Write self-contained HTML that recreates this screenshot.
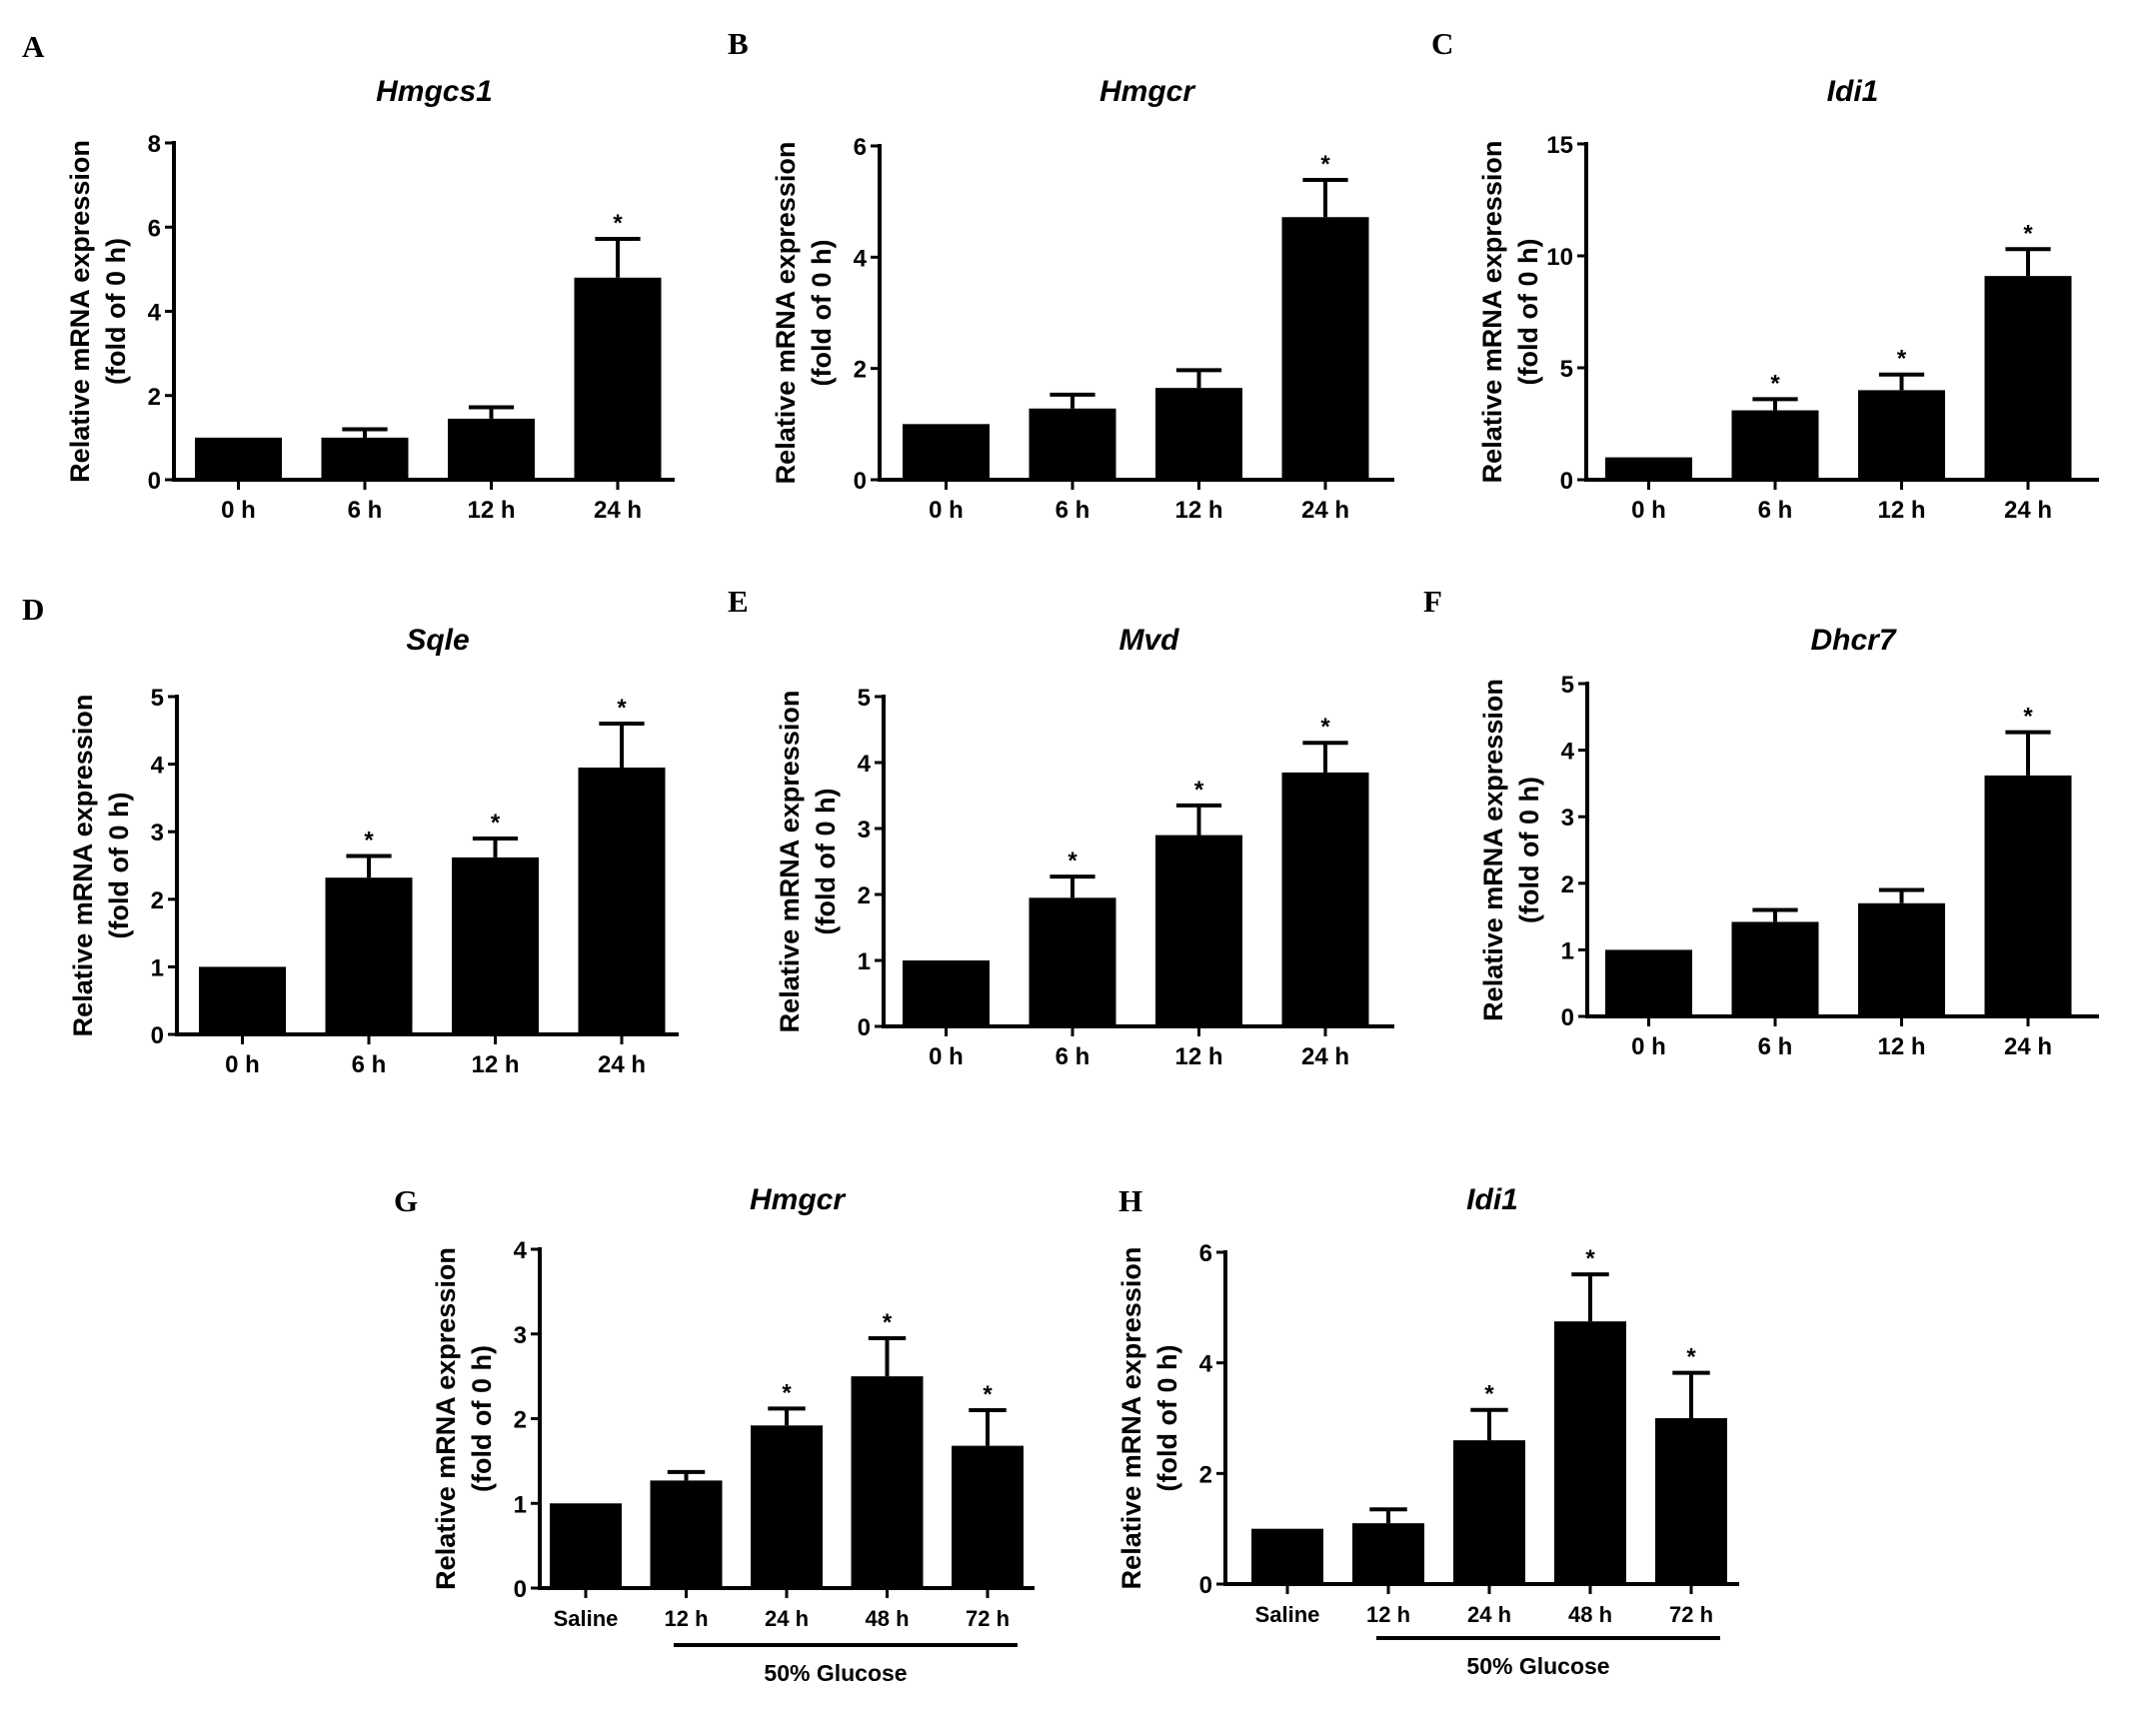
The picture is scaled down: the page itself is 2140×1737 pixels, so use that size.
<!DOCTYPE html>
<html><head><meta charset="utf-8"><style>
body{margin:0;background:#fff;}
svg{display:block;}
text{font-family:"Liberation Sans",sans-serif;font-weight:bold;fill:#000;}
.lt{font-family:"Liberation Serif",serif;font-size:31px;}
</style></head><body>
<svg id="fig" width="2140" height="1737" viewBox="0 0 2140 1737" xmlns="http://www.w3.org/2000/svg"></svg>
<script>
const catsT = ["0 h","6 h","12 h","24 h"];
const catsG = ["Saline","12 h","24 h","48 h","72 h"];
const valsA = [1,1,1.45,4.8];     const errA = [0,0.2,0.27,0.92];  const starA = [0,0,0,1];
const valsB = [1,1.28,1.65,4.72]; const errB = [0,0.25,0.32,0.67]; const starB = [0,0,0,1];
const valsC = [1,3.1,4.0,9.1];    const errC = [0,0.5,0.7,1.2];    const starC = [0,1,1,1];
const valsD = [1,2.32,2.62,3.95]; const errD = [0,0.32,0.28,0.65]; const starD = [0,1,1,1];
const valsE = [1,1.95,2.9,3.85];  const errE = [0,0.32,0.45,0.45]; const starE = [0,1,1,1];
const valsF = [1,1.42,1.7,3.62];  const errF = [0,0.18,0.2,0.65];  const starF = [0,0,0,1];
const valsG = [1,1.27,1.92,2.5,1.68]; const errG = [0,0.1,0.2,0.45,0.42]; const starG = [0,0,1,1,1];
const valsH = [1,1.1,2.6,4.75,3.0];   const errH = [0,0.25,0.55,0.85,0.82]; const starH = [0,0,1,1,1];
const ticksA = [0,2,4,6,8]; const ticksB = [0,2,4,6]; const ticksC = [0,5,10,15];
const ticks5 = [0,1,2,3,4,5]; const ticksG = [0,1,2,3,4]; const ticksH = [0,2,4,6];

const NS="http://www.w3.org/2000/svg";
const svg=document.getElementById('fig');
function mk(tag,attrs,parent){const e=document.createElementNS(NS,tag);for(const k in attrs)e.setAttribute(k,attrs[k]);(parent||svg).appendChild(e);return e;}

function panel(p){
  const g=mk('g',{});
  
  
  const max=p.ticks[p.ticks.length-1];
  const ys=v=>p.y0-(v/max)*(p.y0-p.yTop);
  const bx=i=>p.bar0+i*p.pitch;
  const L=mk('text',{x:p.lx,y:p.ly,class:'lt'},g);L.textContent=p.id;
  
  
  const T=mk('text',{x:(p.axisX+p.end)/2+10,y:p.ty,'font-size':30,'font-style':'italic','text-anchor':'middle'},g);T.textContent=p.title;
  
  
  p.vals.forEach((v,i)=>{
    const x=bx(i);
    const r=mk('rect',{x:x,y:ys(v),width:p.barW,height:p.y0-ys(v),fill:'#000'},g);
    
    
    const cx=x+p.barW/2;
    if(p.err[i]>0){
      const yt=ys(v+p.err[i]);
      const eb=mk('path',{d:`M${cx},${ys(v)}V${yt}M${cx-p.barW*0.26},${yt}H${cx+p.barW*0.26}`,stroke:'#000','stroke-width':4,fill:'none'},g);
      
      
    }
    if(p.star[i]){
      const s=mk('text',{x:cx,y:ys(v+p.err[i])-8,'font-size':24,'text-anchor':'middle'},g);s.textContent='*';
      
      
    }
    const tk=mk('line',{x1:cx,x2:cx,y1:p.y0,y2:p.y0+10,stroke:'#000','stroke-width':3},g);
    
    
    const cl=mk('text',{x:cx,y:p.y0+38,'font-size':p.cfs||24,'text-anchor':'middle'},g);cl.textContent=p.cats[i];
    
    
  });
  const ax=mk('path',{d:`M${p.axisX},${p.yTop-2}V${p.y0}H${p.end}`,stroke:'#000','stroke-width':4,fill:'none'},g);
  
  
  p.ticks.forEach(t=>{
    const y=ys(t);
    const l=mk('line',{x1:p.axisX-9,x2:p.axisX,y1:y,y2:y,stroke:'#000','stroke-width':3},g);
    
    
    const tl=mk('text',{x:p.axisX-13,y:y+9,'font-size':24,'text-anchor':'end'},g);tl.textContent=t;
    
    
  });
  const ym=(p.y0+p.yTop)/2;
  const yl=mk('text',{transform:`translate(${p.axisX-85},${ym}) rotate(-90)`,'font-size':27,'text-anchor':'middle'},g);
  
  
  const t1=mk('tspan',{x:0,y:0},yl);t1.textContent='Relative mRNA expression';
  const t2=mk('tspan',{x:0,y:36},yl);t2.textContent='(fold of 0 h)';
  if(p.gl){
    const gl=mk('line',{x1:p.gl[0],x2:p.gl[1],y1:p.gl[2],y2:p.gl[2],stroke:'#000','stroke-width':4},g);
    
    
    const gt=mk('text',{x:(p.gl[0]+p.gl[1])/2-10,y:p.gl[2]+36,'font-size':23,'text-anchor':'middle'},g);gt.textContent='50% Glucose';
    
    
  }
}
const topCfg={pitch:126.5,barW:87};
panel({id:'A',title:'Hmgcs1',cats:catsT,vals:valsA,err:errA,star:starA,ticks:ticksA,axisX:174,y0:480,yTop:143,bar0:195,end:675,lx:22,ly:57,ty:101,...topCfg});
panel({id:'B',title:'Hmgcr',cats:catsT,vals:valsB,err:errB,star:starB,ticks:ticksB,axisX:880,y0:480,yTop:146,bar0:903,end:1395,lx:728,ly:54,ty:101,...topCfg});
panel({id:'C',title:'Idi1',cats:catsT,vals:valsC,err:errC,star:starC,ticks:ticksC,axisX:1587,y0:480,yTop:144,bar0:1606,end:2100,lx:1432,ly:54,ty:101,...topCfg});
panel({id:'D',title:'Sqle',cats:catsT,vals:valsD,err:errD,star:starD,ticks:ticks5,axisX:177,y0:1035,yTop:697,bar0:199,end:679,lx:22,ly:620,ty:650,...topCfg});
panel({id:'E',title:'Mvd',cats:catsT,vals:valsE,err:errE,star:starE,ticks:ticks5,axisX:884,y0:1027,yTop:697,bar0:903,end:1395,lx:728,ly:612,ty:650,...topCfg});
panel({id:'F',title:'Dhcr7',cats:catsT,vals:valsF,err:errF,star:starF,ticks:ticks5,axisX:1588,y0:1017,yTop:684,bar0:1606,end:2100,lx:1424,ly:612,ty:650,...topCfg});
panel({id:'G',title:'Hmgcr',cats:catsG,vals:valsG,err:errG,star:starG,ticks:ticksG,axisX:540,y0:1589,yTop:1250,bar0:550,pitch:100.5,barW:72,end:1035,lx:394,ly:1212,ty:1210,cfs:22,gl:[674,1018,1646]});
panel({id:'H',title:'Idi1',cats:catsG,vals:valsH,err:errH,star:starH,ticks:ticksH,axisX:1226,y0:1585,yTop:1253,bar0:1252,pitch:101,barW:72,end:1740,lx:1119,ly:1212,ty:1210,cfs:22,gl:[1377,1721,1639]});
</script>
</body></html>
